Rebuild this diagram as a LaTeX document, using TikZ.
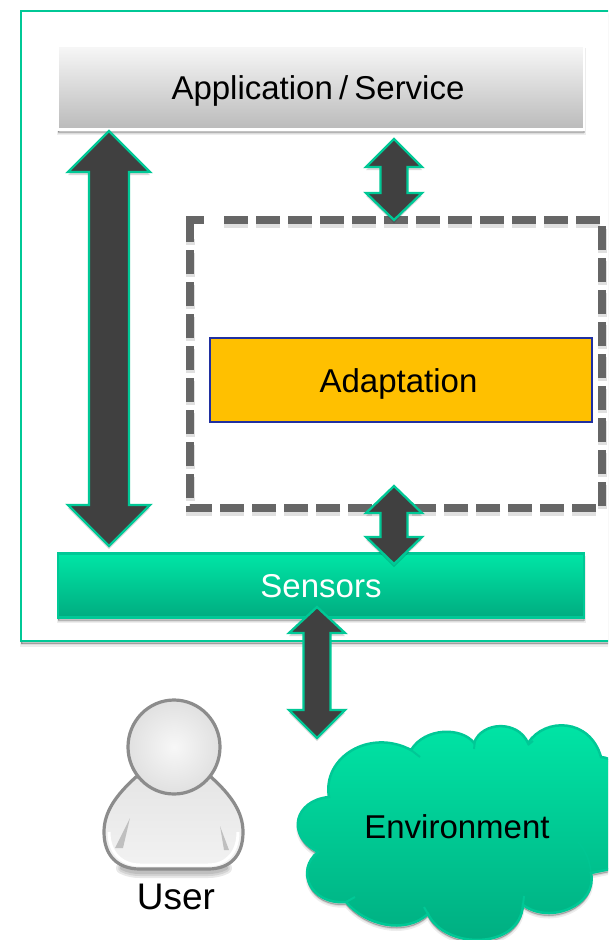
\documentclass[tikz,border=0pt]{standalone}
\usepackage{fontspec}
\setmainfont{Liberation Sans}
\usetikzlibrary{calc,shadows}
\definecolor{edgegreen}{HTML}{00C896}
\definecolor{greentop}{HTML}{00E6A6}
\definecolor{greenbot}{HTML}{00AC80}
\definecolor{arrowgrey}{HTML}{404040}
\definecolor{dashgrey}{HTML}{666666}
\definecolor{personline}{HTML}{8C8C8C}
\definecolor{amber}{HTML}{FFC000}
\definecolor{adaptline}{HTML}{2030A0}
\tikzset{
  softshadow/.style={
    general shadow={shadow yshift=-4pt,fill=black,opacity=.07,draw=black,line width=3pt},
    general shadow={shadow yshift=-2.5pt,fill=black,opacity=.18,draw=black,line width=1pt}},
  boxlabel/.style={font=\fontsize{33}{36}\selectfont,anchor=center,inner sep=0pt,align=center,text height=30pt,text depth=6pt},
  framebox/.style={draw=edgegreen,line width=2.5pt,fill=white,softshadow},
  appbox/.style={draw=white,line width=2.5pt,top color=white!97!black,bottom color=black!27,softshadow,
    minimum width=526pt,minimum height=84pt,boxlabel},
  sensorbox/.style={draw=edgegreen,line width=2.5pt,top color=greentop,bottom color=greenbot,softshadow,
    minimum width=526pt,minimum height=64pt,boxlabel,text=white},
  adaptbox/.style={draw=adaptline,line width=2pt,fill=amber,
    minimum width=382pt,minimum height=84pt,boxlabel},
  dashbox/.style={draw=dashgrey,line width=8pt,dash pattern=on 24pt off 8pt},
  dashshadow/.style={draw=black,opacity=.12,line width=9pt,dash pattern=on 24pt off 8pt},
  blockarrow/.style={draw=edgegreen,line width=2.3pt,fill=arrowgrey,line join=miter,
    general shadow={shadow yshift=-3pt,fill=black,opacity=.15}},
  personshape/.style={draw=personline,line width=3.2pt},
}
% #1 upper tip, #2 lower tip, #3 head half width, #4 upper head length, #5 shaft half width, #6 lower head length
\newcommand{\blockarrowdraw}[6]{%
  \path[blockarrow] let \p1=(#1),\p2=(#2) in
    (\x1,\y1) -- (\x1+#3pt,\y1-#4pt) -- (\x1+#5pt,\y1-#4pt)
    -- (\x2+#5pt,\y2+#6pt) -- (\x2+#3pt,\y2+#6pt) -- (\x2,\y2)
    -- (\x2-#3pt,\y2+#6pt) -- (\x2-#5pt,\y2+#6pt)
    -- (\x1-#5pt,\y1-#4pt) -- (\x1-#3pt,\y1-#4pt) -- cycle;}
\newcommand{\dashoutline}{(224,220) -- (602,220) -- (602,508) -- (190,508) -- (190,236)}
\begin{document}
\begin{tikzpicture}[x=1pt,y=-1pt]
\useasboundingbox (0,0) rectangle (608,940);
\clip (0,0) rectangle (608,940);
\fill[white] (0,0) rectangle (608,940);

% outer frame
\path[framebox] (21,11) rectangle (640,641);

% boxes
\node[appbox] (app) at (321,87.5) {\kern-6pt Application\kern-3pt\ /\kern-3pt\ Service};
\node[sensorbox] (sensors) at (321,585.5) {Sensors};
\begin{scope}[yshift=-3pt]
\draw[dashshadow] \dashoutline;
\end{scope}
\draw[dashbox] \dashoutline;
\draw[draw=dashgrey,line width=8pt] (190,236) -- (190,220) -- (204,220);
\node[adaptbox] (adapt) at (401,380) {\kern-5pt Adaptation};

% cloud
\path[draw=edgegreen,line width=2.5pt,top color=greentop,bottom color=greenbot,softshadow]
  (329,797) .. controls (322,757) and (370,728) .. (411,750)
  .. controls (425,727) and (462,727) .. (474,743)
  .. controls (482,721) and (518,720) .. (528,743)
  .. controls (545,717) and (590,718) .. (601,757)
  .. controls (640,760) and (640,860) .. (625,866)
  -- (591,873)
  .. controls (598,905) and (550,925) .. (523,905)
  .. controls (520,950) and (445,950) .. (428,914)
  .. controls (405,935) and (365,925) .. (346,902)
  .. controls (310,905) and (295,870) .. (318,852)
  .. controls (285,835) and (295,800) .. (329,797) -- cycle;
\draw[draw=edgegreen,line width=2pt] (411,750) -- (420,757);
\draw[draw=edgegreen,line width=2pt] (475,740) -- (474,749);
\draw[draw=edgegreen,line width=2pt] (528,745) -- (533,741);
\draw[draw=edgegreen,line width=1.5pt,opacity=.5] (591,873) .. controls (590,860) and (585,850) .. (578,842);
\draw[draw=edgegreen,line width=2pt] (346,902) -- (355,897);
\draw[draw=edgegreen,line width=2pt] (428,914) -- (424,907);
\draw[draw=edgegreen,line width=2pt] (523,905) -- (524,896);
\node[boxlabel] (env) at (457,826) {Environment};

% user
\foreach \w in {12,8,4}
  \draw[black,opacity=.09,line width=\w pt,line cap=round] (122,868) .. controls (128,871) and (134,872) .. (140,872) -- (208,872) .. controls (214,872) and (220,871) .. (226,868);
\path[personshape,top color=white!90!black,bottom color=white!95!black]
  (136,777) .. controls (116,795) and (104,812) .. (104,832)
  .. controls (104,856) and (118,869) .. (140,869)
  -- (208,869) .. controls (230,869) and (243,856) .. (243,832)
  .. controls (243,812) and (231,795) .. (211,777) -- cycle;
\fill[black!25] (130,818) -- (115,848) -- (123,848) -- cycle;
\fill[black!25] (220,826) -- (229,850) -- (224,850) -- cycle;
\path[draw=white,line width=3pt] (109,832) .. controls (109,853) and (122,865) .. (140,865) -- (208,865) .. controls (226,865) and (238,853) .. (238,832);
\path[personshape,inner color=white!97!black,outer color=black!12] (174,747) ellipse (46 and 47);
\node[boxlabel,font=\fontsize{37}{40}\selectfont] (user) at (176,897) {User};

% connectors
\coordinate (bigtop) at (109,131);
\coordinate (bigbot) at (109,546);
\coordinate (uppertop) at (394,139);
\coordinate (upperbot) at (394,220);
\coordinate (lowertop) at (394,486);
\coordinate (lowerbot) at (394,564);
\coordinate (envtop) at (317,607);
\coordinate (envbot) at (317,738);
\blockarrowdraw{bigtop}{bigbot}{41}{41}{20}{41}
\blockarrowdraw{uppertop}{upperbot}{28}{28}{13.5}{27}
\blockarrowdraw{lowertop}{lowerbot}{28}{27}{13.5}{27}
\blockarrowdraw{envtop}{envbot}{28}{26}{13.5}{28}
\end{tikzpicture}
\end{document}
